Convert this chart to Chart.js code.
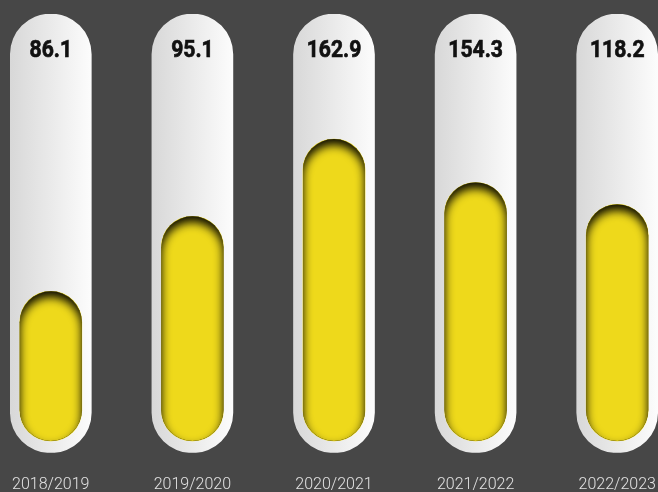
<!DOCTYPE html>
<html>
<head>
<meta charset="utf-8">
<script src="https://cdn.jsdelivr.net/npm/chart.js@4/dist/chart.umd.min.js"></script>
<style>
    html, body { margin: 0; padding: 0; background: #474747; overflow: hidden; }
    #wrap { position: absolute; left: -20px; top: 0; width: 708px; height: 510px; }
</style>
</head>
<body>
<div id="wrap"><canvas id="chart"></canvas></div>
<script>
// seasons on the x axis
const seasons = ['2018/2019', '2019/2020', '2020/2021', '2021/2022', '2022/2023'];
// numbers printed at the top of each tube
const values = [86.1, 95.1, 162.9, 154.3, 118.2];
// yellow fill level inside each tube (0-100 of the tube)
const fillLevels = [36.8, 53.9, 71.5, 61.6, 56.6];
const tubeFull = [100, 100, 100, 100, 100];
const fillBase = 2.7;

// tube gradient, left grey to right white
function tubeGradient(context) {
    const chart = context.chart;
    if (!chart.chartArea) return '#eeeeee';
    const x = chart.scales.x.getPixelForValue(context.dataIndex);
    const g = chart.ctx.createLinearGradient(x - 40, 0, x + 40, 0);
    g.addColorStop(0, '#d8d8d8');
    g.addColorStop(1, '#fcfcfc');
    return g;
}

// shadow on the top of the yellow bars
const innerShadow = {
    id: 'innerShadow',
    afterDatasetDraw(chart, args) {
        if (args.index !== 1) return;
        const ctx = chart.ctx;
        args.meta.data.forEach(bar => {
            const w = bar.width, h = bar.base - bar.y;
            const left = bar.x - w / 2;
            ctx.save();
            ctx.beginPath();
            ctx.roundRect(left, bar.y, w, h, w / 2);
            ctx.clip();
            ctx.beginPath();
            ctx.rect(left - 60, bar.y - 60, w + 120, h + 120);
            ctx.roundRect(left, bar.y, w, h, w / 2);
            ctx.shadowColor = 'rgba(0,0,0,0.95)';
            ctx.shadowBlur = 10;
            ctx.shadowOffsetY = 6;
            ctx.fillStyle = '#000';
            ctx.fill('evenodd');
            ctx.restore();
        });
    }
};

// value labels at the top of the tubes
const topLabels = {
    id: 'topLabels',
    afterDatasetsDraw(chart) {
        const ctx = chart.ctx;
        const meta = chart.getDatasetMeta(0);
        ctx.save();
        ctx.font = 'bold 24px Roboto';
        ctx.fillStyle = '#111';
        ctx.strokeStyle = '#111';
        ctx.lineWidth = 0.7;
        ctx.textAlign = 'center';
        ctx.textBaseline = 'alphabetic';
        meta.data.forEach((bar, i) => {
            ctx.save();
            ctx.translate(bar.x, 57);
            ctx.scale(0.88, 1);
            ctx.fillText(values[i].toString(), 0, 0);
            ctx.strokeText(values[i].toString(), 0, 0);
            ctx.restore();
        });
        ctx.restore();
    }
};

new Chart(document.getElementById('chart'), {
    type: 'bar',
    data: {
        labels: seasons,
        datasets: [{
            data: tubeFull,
            backgroundColor: tubeGradient,
            barThickness: 81,
            borderRadius: 41,
            borderSkipped: false,
            grouped: false,
            order: 2
        }, {
            data: fillLevels.map(v => [fillBase, v]),
            backgroundColor: '#eed91b',
            barThickness: 62,
            borderRadius: 31,
            borderSkipped: false,
            grouped: false,
            order: 1
        }]
    },
    options: {
        responsive: true,
        maintainAspectRatio: false,
        animation: false,
        layout: { padding: { top: 14, left: 0, right: 0, bottom: 0 } },
        plugins: { legend: { display: false }, tooltip: { enabled: false } },
        scales: {
            x: {
                grid: { display: false },
                border: { display: false },
                ticks: {
                    color: '#e2e2e2',
                    padding: 15,
                    font: { family: 'Roboto', size: 16, weight: '300' }
                }
            },
            y: { display: false, min: 0, max: 100 }
        }
    },
    plugins: [innerShadow, topLabels]
});
</script>
</body>
</html>
